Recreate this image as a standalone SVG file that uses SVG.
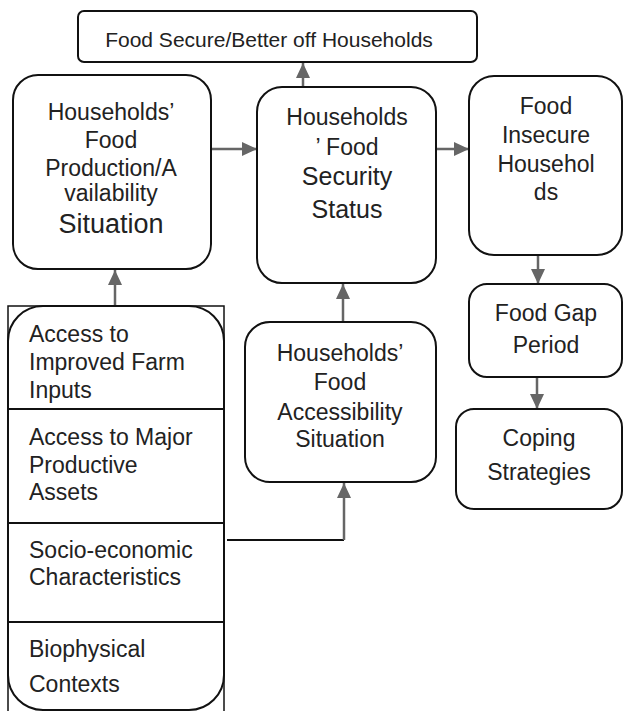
<svg xmlns="http://www.w3.org/2000/svg" width="623" height="711" viewBox="0 0 623 711">
<style>
.box{fill:#fff;stroke:#111;stroke-width:2}
.t{font-family:"Liberation Sans",Arial,sans-serif;font-size:23px;fill:#222;text-anchor:middle}
.l{text-anchor:start}
.big{font-size:25px}
.big2{font-size:27px}
.top{font-size:21px}
.c{fill:none;stroke:#666;stroke-width:2.5}
.k{fill:none;stroke:#111;stroke-width:2}
</style>
<defs>
<marker id="ah" markerUnits="userSpaceOnUse" markerWidth="15" markerHeight="14" refX="15" refY="7" orient="auto">
<path d="M0,0 L15,7 L0,14 z" fill="#666"/>
</marker>
</defs>
<rect width="623" height="711" fill="#fff"/>
<g id="connectors">
<path class="c" d="M303,87 L303,63" marker-end="url(#ah)"/>
<path class="c" d="M212,149 L257,149" marker-end="url(#ah)"/>
<path class="c" d="M436,149 L469,149" marker-end="url(#ah)"/>
<path class="c" d="M538,255 L538,284" marker-end="url(#ah)"/>
<path class="c" d="M537,377 L537,409" marker-end="url(#ah)"/>
<path class="c" d="M343,322 L343,284" marker-end="url(#ah)"/>
<path class="c" d="M115,306 L115,270" marker-end="url(#ah)"/>
<path class="k" d="M227,540 L344,540"/>
<path class="c" d="M344,540 L344,483" marker-end="url(#ah)"/>
</g>
<g id="food-secure">
<rect class="box" x="78" y="11" width="399" height="51" rx="6"/>
<text class="t top" x="269" y="47">Food Secure/Better off Households</text>
</g>
<g id="production">
<rect class="box" x="13" y="75" width="198" height="194" rx="25"/>
<text class="t" x="111" y="120">Households’</text>
<text class="t" x="111" y="148">Food</text>
<text class="t" x="111" y="176">Production/A</text>
<text class="t" x="111" y="201">vailability</text>
<text class="t big2" x="111" y="233">Situation</text>
</g>
<g id="security">
<rect class="box" x="257" y="87" width="179" height="196" rx="25"/>
<text class="t" x="347" y="125">Households</text>
<text class="t" x="347" y="155">’ Food</text>
<text class="t big" x="347" y="185">Security</text>
<text class="t big" x="347" y="218">Status</text>
</g>
<g id="insecure">
<rect class="box" x="469" y="76" width="153" height="179" rx="25"/>
<text class="t" x="546" y="114">Food</text>
<text class="t" x="546" y="143">Insecure</text>
<text class="t" x="546" y="172">Househol</text>
<text class="t" x="546" y="200">ds</text>
</g>
<g id="food-gap">
<rect class="box" x="469" y="284" width="153" height="93" rx="18"/>
<text class="t" x="546" y="321">Food Gap</text>
<text class="t" x="546" y="353">Period</text>
</g>
<g id="coping">
<rect class="box" x="456" y="409" width="166" height="100" rx="18"/>
<text class="t" x="539" y="446">Coping</text>
<text class="t" x="539" y="480">Strategies</text>
</g>
<g id="accessibility">
<rect class="box" x="245" y="322" width="191" height="160" rx="25"/>
<text class="t" x="340" y="361">Households’</text>
<text class="t" x="340" y="390">Food</text>
<text class="t" x="340" y="420">Accessibility</text>
<text class="t" x="340" y="447">Situation</text>
</g>
<g id="factors">
<rect x="8" y="306" width="216" height="420" fill="#fff" stroke="#111" stroke-width="1.5"/>
<rect class="box" x="8" y="306" width="216" height="404" rx="35"/>
<path class="k" d="M8,409 L224,409 M8,523 L224,523 M8,622 L224,622"/>
<text class="t l" x="29" y="342">Access to</text>
<text class="t l" x="29" y="370">Improved Farm</text>
<text class="t l" x="29" y="398">Inputs</text>
<text class="t l" x="29" y="445">Access to Major</text>
<text class="t l" x="29" y="473">Productive</text>
<text class="t l" x="29" y="500">Assets</text>
<text class="t l" x="29" y="558">Socio-economic</text>
<text class="t l" x="29" y="585">Characteristics</text>
<text class="t l" x="29" y="657">Biophysical</text>
<text class="t l" x="29" y="692">Contexts</text>
</g>
</svg>
